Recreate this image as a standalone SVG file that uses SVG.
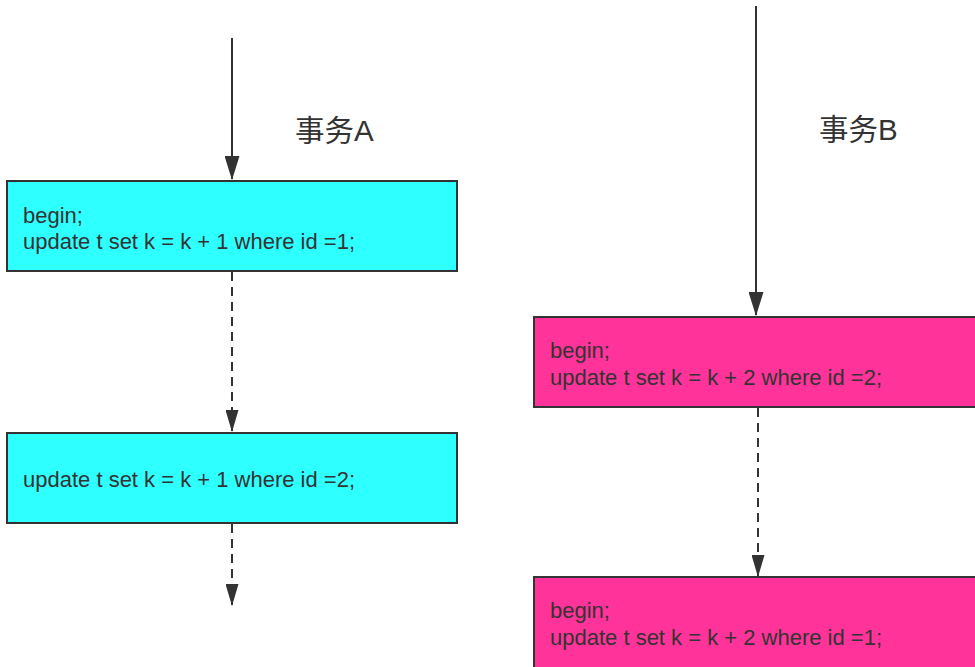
<svg xmlns="http://www.w3.org/2000/svg" width="975" height="667" viewBox="0 0 975 667">
<style>
.a{fill:#2EFFFF;stroke:#333;stroke-width:2}
.b{fill:#FF3399;stroke:#333;stroke-width:2}
.t{font-family:"Liberation Sans",Arial,sans-serif;font-size:22px;fill:#333}
.h{font-family:"Liberation Sans","Noto Sans CJK SC",sans-serif;font-size:29.5px;fill:#333}
.c{stroke:#333;stroke-width:2;fill:none}
.d{stroke-dasharray:9 6}
</style>
<defs>
<marker id="m" viewBox="0 0 24 15" refX="23" refY="7.5" markerWidth="24" markerHeight="15" orient="auto" markerUnits="userSpaceOnUse">
<path d="M0,0 L24,7.5 L0,15 Z" fill="#333"/>
</marker>
<marker id="s" viewBox="0 0 22 13" refX="21" refY="6.5" markerWidth="22" markerHeight="13" orient="auto" markerUnits="userSpaceOnUse">
<path d="M0,0 L22,6.5 L0,13 Z" fill="#333"/>
</marker>
</defs>
<g id="connectors">
<line class="c" x1="232" y1="38" x2="232" y2="179" marker-end="url(#m)"/>
<line class="c d" x1="232" y1="272" x2="232" y2="431" marker-end="url(#s)"/>
<line class="c d" x1="232" y1="524" x2="232" y2="605" marker-end="url(#s)"/>
<line class="c" x1="756" y1="6" x2="756" y2="315" marker-end="url(#m)"/>
<line class="c d" x1="758" y1="408" x2="758" y2="576" marker-end="url(#s)"/>
</g>
<g id="labelA"><text class="h" x="295" y="141">事务A</text></g>
<g id="labelB"><text class="h" x="819" y="140">事务B</text></g>
<g id="A1">
<rect class="a" x="7" y="181" width="450" height="90"/>
<text class="t" x="23" y="223">begin;</text>
<text class="t" x="23" y="249">update t set k = k + 1 where id =1;</text>
</g>
<g id="A2">
<rect class="a" x="7" y="433" width="450" height="90"/>
<text class="t" x="23" y="487">update t set k = k + 1 where id =2;</text>
</g>
<g id="B1">
<rect class="b" x="534" y="317" width="450" height="90"/>
<text class="t" x="550" y="358">begin;</text>
<text class="t" x="550" y="385">update t set k = k + 2 where id =2;</text>
</g>
<g id="B2">
<rect class="b" x="534" y="577" width="450" height="100"/>
<text class="t" x="550" y="618">begin;</text>
<text class="t" x="550" y="645">update t set k = k + 2 where id =1;</text>
</g>
</svg>
